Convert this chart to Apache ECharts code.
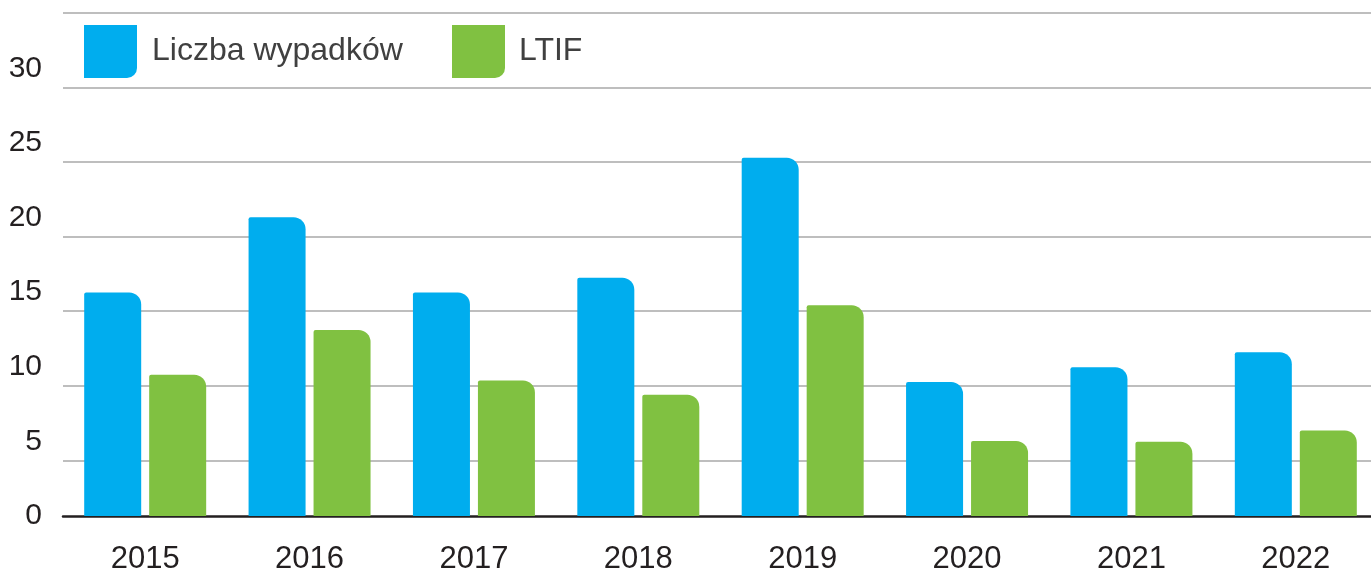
<!DOCTYPE html>
<html>
<head>
<meta charset="utf-8">
<script src="https://cdn.jsdelivr.net/npm/echarts@6/dist/echarts.min.js"></script>
<style>
html,body{margin:0;padding:0;background:#fff;}
#chart{width:1371px;height:574px;}
</style>
</head>
<body>
<div id="chart"></div>
<script>
// ---- data ----
const categories = ['2015', '2016', '2017', '2018', '2019', '2020', '2021', '2022'];
const wypadki = [16.25, 21.3, 16.25, 17.25, 25.3, 10.25, 11.25, 12.25];
const ltif = [10.75, 13.75, 10.35, 9.4, 15.4, 6.3, 6.25, 7.0];
const seriesNames = ['Liczba wypadków', 'LTIF'];
const yMin = 0, yMax = 35, yStep = 5;
const axisCutValue = 1.27; // value where the drawn baseline sits

const FONT = "'Liberation Sans', Arial, sans-serif";
const BLUE = '#00adee';
const GREEN = '#80c141';
const legendIcon = 'path://M0,0 H53 V43 A10,10 0 0 1 43,53 H0 Z';

const chart = echarts.init(document.getElementById('chart'), null, {renderer: 'canvas'});
chart.setOption({
  animation: false,
  backgroundColor: '#fff',
  textStyle: {fontFamily: FONT},
  grid: [
    {left: 63, width: 1315, top: 13, bottom: 39.1, containLabel: false, outerBoundsMode: 'none'},
    {left: 63, width: 1315, top: 13, bottom: 58, containLabel: false, outerBoundsMode: 'none'}
  ],
  legend: [
    {
      left: 84, top: 25, padding: 0, itemWidth: 53, itemHeight: 53, icon: legendIcon,
      data: [seriesNames[0]],
      textStyle: {fontSize: 32, color: '#404040', fontFamily: FONT, padding: [0, 0, 0, 10]}
    },
    {
      left: 452, top: 25, padding: 0, itemWidth: 53, itemHeight: 53, icon: legendIcon,
      data: [seriesNames[1]],
      textStyle: {fontSize: 32, color: '#404040', fontFamily: FONT, padding: [0, 0, 0, 9]}
    }
  ],
  xAxis: [
    {type: 'category', gridIndex: 0, data: categories, show: false},
    {
      type: 'category', gridIndex: 1, data: categories,
      axisLine: {show: true, lineStyle: {color: '#231f20', width: 2.5}},
      axisTick: {show: false},
      axisLabel: {fontSize: 31, color: '#231f20', fontFamily: FONT, margin: 28}
    }
  ],
  yAxis: [
    {
      type: 'value', gridIndex: 0, min: yMin, max: yMax, interval: yStep,
      axisLine: {show: false}, axisTick: {show: false},
      axisLabel: {fontSize: 30, color: '#231f20', fontFamily: FONT, margin: 21,
                  verticalAlign: 'bottom', lineHeight: 30, padding: [0, 0, 4, 0],
                  showMaxLabel: false},
      splitLine: {show: true, showMinLine: false, lineStyle: {color: '#a8a8a8', width: 1.5}}
    },
    {
      type: 'value', gridIndex: 1, min: axisCutValue, max: yMax,
      show: false, splitLine: {show: false}
    }
  ],
  series: [
    {
      name: seriesNames[0], type: 'bar', xAxisIndex: 1, yAxisIndex: 1,
      data: wypadki, barWidth: 57, barGap: '14%', clip: true,
      itemStyle: {color: BLUE, borderRadius: [2, 12, 0, 0]}
    },
    {
      name: seriesNames[1], type: 'bar', xAxisIndex: 1, yAxisIndex: 1,
      data: ltif, barWidth: 57, barGap: '14%', clip: true,
      itemStyle: {color: GREEN, borderRadius: [2, 12, 0, 0]}
    }
  ]
});
</script>
</body>
</html>
